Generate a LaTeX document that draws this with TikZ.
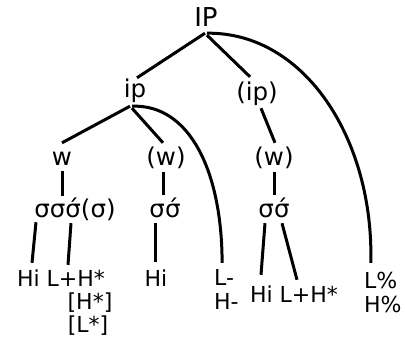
\documentclass[tikz,border=0pt]{standalone}
\usepackage{fontspec}
\setmainfont{DejaVu Sans}
\begin{document}
\begin{tikzpicture}[x=1pt,y=-1pt,
  lbl/.style={inner sep=0pt, anchor=base, text height=15pt, text depth=0pt,
    font=\fontsize{22}{26}\selectfont},
  mid/.style={lbl, font=\fontsize{24.5}{28}\selectfont},
  big/.style={lbl, font=\fontsize{26}{30}\selectfont, text height=18pt},
  edge/.style={line width=3pt, black}]
\useasboundingbox (0,0) rectangle (405,340);
% nodes
\node[big] (IP) at (206,27) {IP};
\node[mid] (ip) at (135,97) {ip};
\node[mid] (ipo) at (257,100) {(ip)};
\node[mid] (w) at (62,165) {w};
\node[mid] (wa) at (166,165) {(w)};
\node[mid] (wb) at (274,165) {(w)};
\node[mid] (sa) at (75,217) {σσσ́(σ)};
\node[mid] (sb) at (165,217) {σσ́};
\node[mid] (sc) at (274,217) {σσ́};
\node[lbl] (ta) at (61,286) {Hi L+H*};
\node[lbl] (tb) at (90,309) {[H*]};
\node[lbl] (tc) at (88,332) {[L*]};
\node[lbl] (td) at (156,286) {Hi};
\node[lbl, anchor=base west] (Lm) at (214,285) {L-};
\node[lbl, anchor=base west] (Hm) at (214,309) {H-};
\node[lbl] (te) at (294,302) {Hi L+H*};
\node[lbl, anchor=base west] (Lp) at (364,288) {L\%};
\node[lbl, anchor=base west] (Hp) at (364,312) {H\%};
% connectors
\draw[edge] ([xshift=-1pt,yshift=-6pt]IP.south) -- ([xshift=2pt,yshift=4pt]ip.north);
\draw[edge] ([xshift=1pt,yshift=-8pt]IP.south) -- ([xshift=-7pt,yshift=8pt]ipo.north);
\draw[edge] ([xshift=1pt,yshift=-6pt]IP.south) .. controls (305,32) and (374,140) .. ([xshift=-10pt,yshift=10pt]Lp.north);
\draw[edge] ([xshift=-5pt,yshift=-9pt]ip.south) -- ([yshift=7pt]w.north);
\draw[edge] ([xshift=-3pt,yshift=-11pt]ip.south) -- ([xshift=-3pt,yshift=7pt]wa.north);
\draw[edge] ([xshift=-3pt,yshift=-9pt]ip.south) .. controls (190,104) and (222,172) .. ([xshift=-2pt,yshift=7pt]Lm.north);
\draw[edge] ([xshift=4pt,yshift=-8pt]ipo.south) -- ([xshift=1pt,yshift=7pt]wb.north);
\draw[edge] ([yshift=-6pt]w.south) -- ([xshift=-13pt,yshift=6pt]sa.north);
\draw[edge] ([xshift=-3pt,yshift=-7pt]wa.south) -- ([xshift=-2pt,yshift=7pt]sb.north);
\draw[edge] ([yshift=-7pt]wb.south) -- ([yshift=7pt]sc.north);
\draw[edge] ([xshift=-39pt,yshift=-5pt]sa.south) -- ([xshift=-29pt,yshift=8pt]ta.north);
\draw[edge] ([xshift=-4pt,yshift=-6pt]sa.south) -- ([xshift=7pt,yshift=6pt]ta.north);
\draw[edge] ([xshift=-10pt,yshift=-6pt]sb.south) -- ([xshift=-1pt,yshift=9pt]td.north);
\draw[edge] ([xshift=-9pt,yshift=-6pt]sc.south) -- ([xshift=-33pt,yshift=12pt]te.north);
\draw[edge] ([xshift=8pt,yshift=-6pt]sc.south) -- ([xshift=3pt,yshift=7pt]te.north);
\end{tikzpicture}
\end{document}
